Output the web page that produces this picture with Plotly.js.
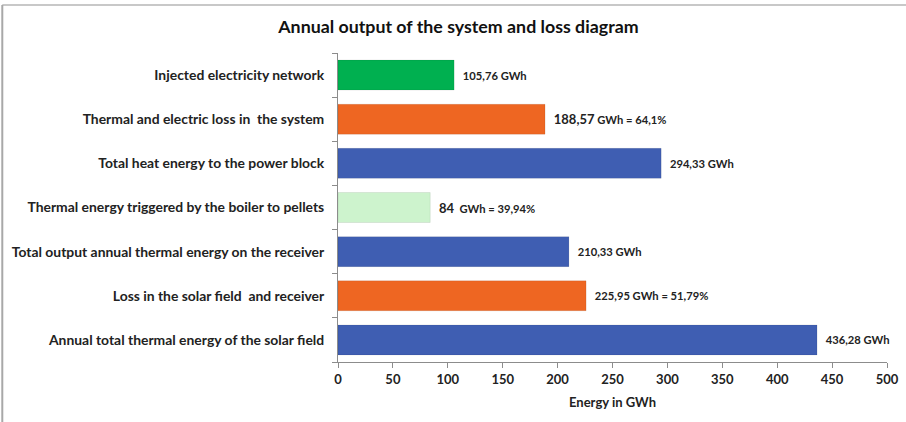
<!DOCTYPE html>
<html>
<head>
<meta charset="utf-8">
<script src="https://cdn.plot.ly/plotly-3.0.1.min.js"></script>
<style>html,body{margin:0;padding:0;background:#fff;}#chart{width:906px;height:422px;}</style>
</head>
<body>
<div id="chart"></div>
<script>
var categories = [
  "Injected electricity network",
  "Thermal and electric loss in  the system",
  "Total heat energy to the power block",
  "Thermal energy triggered by the boiler to pellets",
  "Total output annual thermal energy on the receiver",
  "Loss in the solar field  and receiver",
  "Annual total thermal energy of the solar field"
];
var values = [105.76, 188.57, 294.33, 84, 210.33, 225.95, 436.28];
var labels = [
  "105,76 GWh",
  "<span style='font-size:13px'>188,57</span> GWh = 64,1%",
  "294,33 GWh",
  "<span style='font-size:13px'>84</span>  GWh = 39,94%",
  "210,33 GWh",
  "225,95 GWh = 51,79%",
  "436,28 GWh"
];
var barColors = ["#00B050", "#EE6622", "#3F5EB2", "#CDF3CD", "#3F5EB2", "#EE6622", "#3F5EB2"];
var xTicks = [0, 50, 100, 150, 200, 250, 300, 350, 400, 450, 500];

var FONT = "Lato, 'Roboto', sans-serif";

var trace = {
  type: "bar",
  orientation: "h",
  y: categories,
  x: values,
  text: labels.map(function(t){ return "  <b>" + t + "</b>"; }),
  textposition: "outside",
  cliponaxis: false,
  textfont: {family: FONT, size: 11.2, color: "#222"},
  marker: {color: barColors, line: {color: "rgba(0,0,0,0.08)", width: 1}},
  width: 0.68,
  hoverinfo: "none"
};

var layout = {
  width: 906,
  height: 422,
  margin: {l: 338, r: 19, t: 53, b: 60},
  paper_bgcolor: "#fff",
  plot_bgcolor: "#fff",
  showlegend: false,
  font: {family: FONT, color: "#222", size: 13},
  title: {text: "<b>Annual output of the system and loss diagram</b>", x: 0.506, xref: "container", xanchor: "center", y: 0.936, yref: "container", yanchor: "middle", font: {family: FONT, size: 17.8, color: "#111"}},
  xaxis: {
    range: [0, 500],
    tickvals: xTicks,
    ticktext: xTicks.map(function(v){ return "<b>" + v + "</b>"; }),
    showgrid: false,
    zeroline: false,
    showline: true,
    linecolor: "#8c8c8c",
    linewidth: 1,
    ticks: "outside",
    ticklen: 5,
    tickcolor: "#8c8c8c",
    tickfont: {family: FONT, size: 13, color: "#222"},
    title: {text: "<b>Energy in GWh</b>", font: {family: FONT, size: 13, color: "#222"}, standoff: 12}
  },
  yaxis: {
    autorange: "reversed",
    type: "category",
    showgrid: false,
    zeroline: false,
    showline: true,
    linecolor: "#8c8c8c",
    linewidth: 1,
    ticks: "outside",
    tickson: "boundaries",
    ticklen: 5,
    tickcolor: "#8c8c8c",
    ticklabelstandoff: 10,
    tickfont: {family: FONT, size: 13.9, color: "#222"},
    tickvals: categories,
    ticktext: categories.map(function(c){ return "<b>" + c + "</b>"; })
  },
  shapes: [
    {type: "line", xref: "paper", yref: "paper", x0: -0.6115, x1: 1.04, y0: 1.155, y1: 1.155, line: {color: "#c8c8c8", width: 2}},
    {type: "line", xref: "paper", yref: "paper", x0: -0.6115, x1: -0.6115, y0: 1.155, y1: -0.2, line: {color: "#a8a8a8", width: 2}}
  ]
};

Plotly.newPlot("chart", [trace], layout, {displayModeBar: false, staticPlot: true});
</script>
</body>
</html>
